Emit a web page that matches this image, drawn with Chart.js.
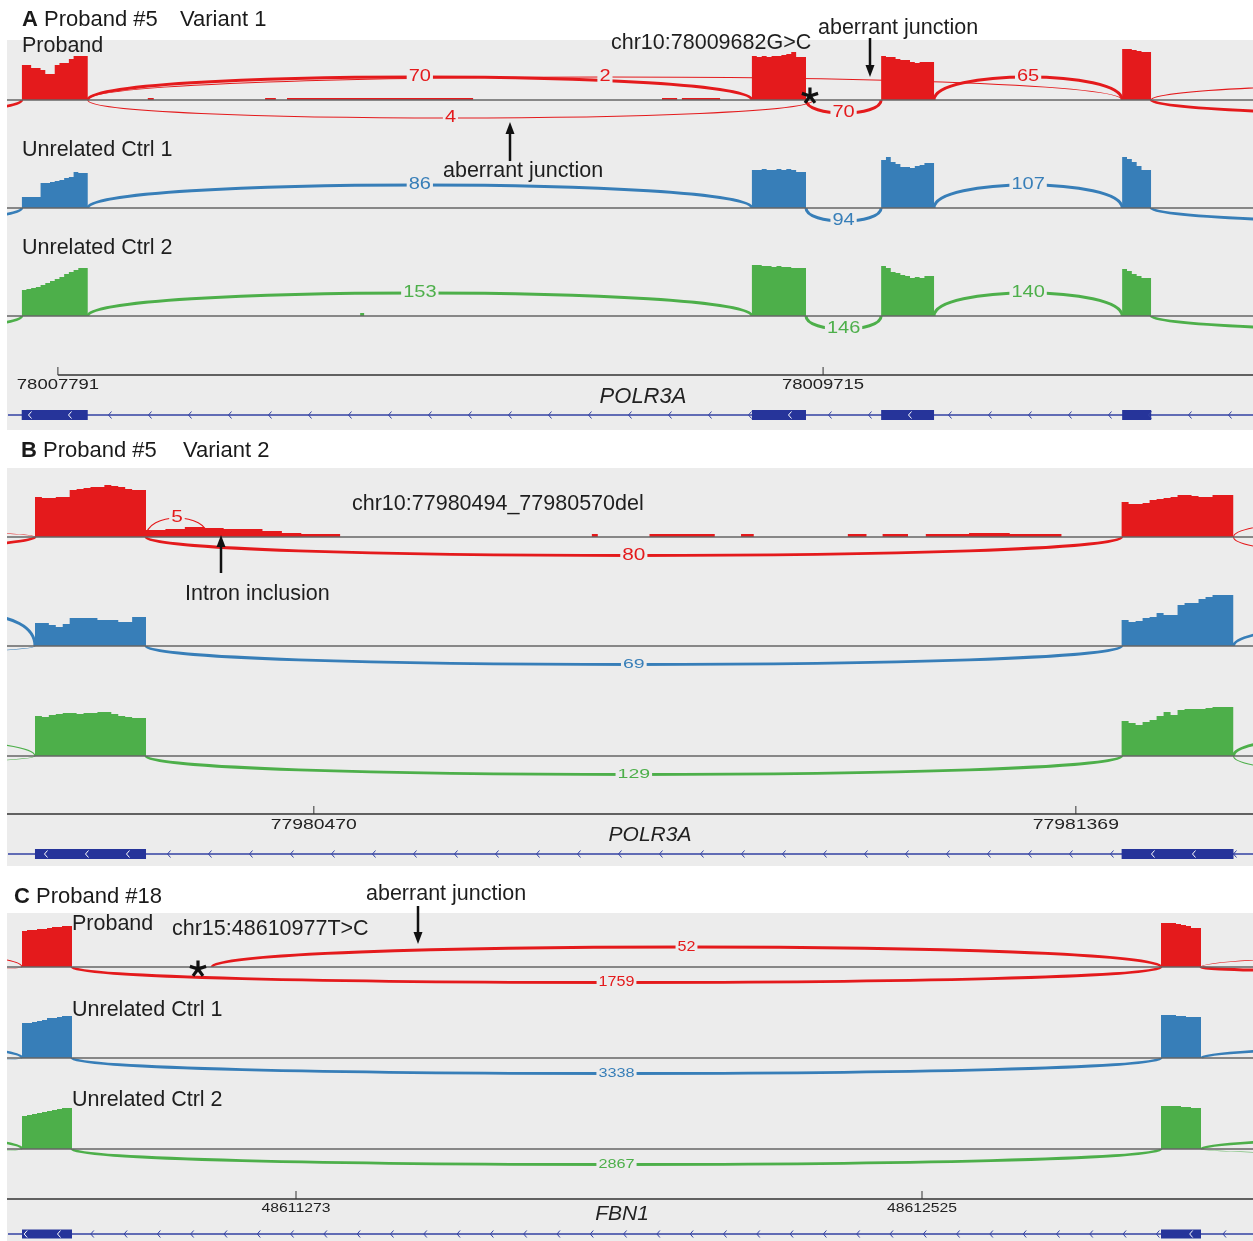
<!DOCTYPE html>
<html>
<head>
<meta charset="utf-8">
<title>Sashimi plots POLR3A / FBN1</title>
<script src="https://cdn.jsdelivr.net/npm/chart.js@4.4.1/dist/chart.umd.min.js"></script>
<style>
  body { margin: 0; background: #fff; }
  #page { position: relative; width: 1253px; height: 1241px; overflow: hidden;
          font-family: "Liberation Sans", Arial, sans-serif; color: #1a1a1a; }
  #page canvas { position: absolute; left: 0; }
  .ttl { position: absolute; font-size: 22px; line-height: 23px; white-space: pre; z-index: 2; }
</style>
</head>
<body>
<div id="page">
  <canvas id="panelA" width="1253" height="430" style="top:0px"></canvas>
  <canvas id="panelB" width="1253" height="436" style="top:430px"></canvas>
  <canvas id="panelC" width="1253" height="375" style="top:866px"></canvas>

  <span class="ttl" style="left:22px;top:7px"><b>A</b></span>
  <span class="ttl" style="left:44px;top:7px">Proband #5</span>
  <span class="ttl" style="left:180px;top:7px">Variant 1</span>

  <span class="ttl" style="left:21px;top:438px"><b>B</b></span>
  <span class="ttl" style="left:43px;top:438px">Proband #5</span>
  <span class="ttl" style="left:183px;top:438px">Variant 2</span>

  <span class="ttl" style="left:14px;top:884px"><b>C</b></span>
  <span class="ttl" style="left:36px;top:884px">Proband #18</span>
</div>
<script>
const RED = '#e41a1c', BLUE = '#377eb8', GREEN = '#4daf4a';
const trackColors = [RED, BLUE, GREEN];
const FONT = '"Liberation Sans", Arial, sans-serif';

// ---------- A: POLR3A chr10, proband #5 variant 1 ----------
const geneA = 'POLR3A';
const viewA = [78007663, 78010796];
const rulerA = [78007791, 78009715];
const exonsA = [[78007700, 78007866], [78009536, 78009672], [78009861, 78009994], [78010467, 78010540]];
// coverage segments: [start, end, depth samples left to right]
const covA_proband = [
  [78007700, 78007866, [35, 35, 35, 32, 32, 30, 26, 26, 35, 37, 37, 41, 44, 44]],
  [78008017, 78008032, [2]],
  [78008312, 78008339, [2]],
  [78008367, 78008835, [2]],
  [78009310, 78009348, [2]],
  [78009360, 78009456, [2]],
  [78009536, 78009672, [47, 44, 43, 44, 43, 44, 44, 45, 46, 48, 43]],
  [78009861, 78009994, [44, 44, 43, 43, 41, 40, 40, 38, 37, 38, 38]],
  [78010467, 78010540, [46, 51, 51, 50, 49, 48]]
];
const covA_ctrl1 = [
  [78007700, 78007866, [11, 11, 11, 11, 11, 25, 25, 26, 27, 28, 30, 31, 36, 35]],
  [78009536, 78009672, [36, 38, 38, 39, 38, 38, 39, 38, 39, 38, 36]],
  [78009861, 78009994, [41, 48, 51, 46, 44, 41, 41, 40, 42, 43, 45]],
  [78010467, 78010540, [44, 51, 49, 46, 42, 38]]
];
const covA_ctrl2 = [
  [78007700, 78007866, [26, 26, 27, 28, 29, 31, 33, 35, 37, 39, 42, 44, 46, 48]],
  [78008551, 78008561, [3]],
  [78009536, 78009672, [48, 51, 51, 50, 50, 49, 50, 49, 49, 48, 48]],
  [78009861, 78009994, [46, 50, 48, 44, 43, 41, 40, 38, 39, 38, 40]],
  [78010467, 78010540, [44, 47, 45, 42, 40, 38]]
];
// junctions: [donor, acceptor, reads, side]
const juncA_proband = [
  [78006277, 78007700, 60, 'down'],
  [78007866, 78009536, 70, 'up'],
  [78007866, 78010467, 2, 'up'],
  [78007866, 78009690, 4, 'down'],
  [78009672, 78009861, 70, 'down'],
  [78009994, 78010467, 65, 'up'],
  [78010540, 78014486, 3, 'up'],
  [78010540, 78013329, 60, 'down']
];
const juncA_ctrl1 = [
  [78006277, 78007700, 80, 'down'],
  [78007866, 78009536, 86, 'up'],
  [78009672, 78009861, 94, 'down'],
  [78009994, 78010467, 107, 'up'],
  [78010540, 78013329, 90, 'down']
];
const juncA_ctrl2 = [
  [78006277, 78007700, 140, 'down'],
  [78007866, 78009536, 153, 'up'],
  [78009672, 78009861, 146, 'down'],
  [78009994, 78010467, 140, 'up'],
  [78010540, 78013329, 150, 'down']
];
const variantA = 78009682;

// ---------- B: POLR3A chr10, proband #5 variant 2 ----------
const geneB = 'POLR3A';
const viewB = [77980108, 77981578];
const rulerB = [77980470, 77981369];
const exonsB = [[77980141, 77980272], [77981423, 77981555]];
const covB_proband = [
  [77980141, 77980272, [42, 40, 39, 39, 40, 40, 47, 48, 49, 50, 50, 52, 51, 50, 48, 47]],
  [77980272, 77980501, [6, 7, 8, 10, 9, 8, 8, 6, 4, 3]],
  [77980798, 77980805, [3]],
  [77980866, 77980943, [3]],
  [77980974, 77980989, [3]],
  [77981100, 77981122, [3]],
  [77981141, 77981171, [3]],
  [77981192, 77981243, [3]],
  [77981243, 77981291, [4]],
  [77981291, 77981352, [3]],
  [77981423, 77981555, [35, 35, 33, 33, 34, 37, 38, 39, 40, 42, 42, 41, 40, 40, 42, 42]]
];
const covB_ctrl1 = [
  [77980141, 77980272, [23, 23, 23, 21, 19, 22, 28, 28, 28, 28, 26, 26, 26, 24, 24, 29]],
  [77981423, 77981555, [28, 26, 24, 25, 28, 29, 33, 31, 31, 41, 43, 43, 47, 49, 51, 51]]
];
const covB_ctrl2 = [
  [77980141, 77980272, [41, 40, 39, 41, 42, 43, 43, 42, 43, 43, 44, 44, 42, 40, 39, 38]],
  [77981423, 77981555, [36, 35, 33, 31, 34, 36, 40, 44, 41, 46, 47, 47, 47, 48, 49, 49]]
];
const juncB_proband = [
  [77978659, 77980141, 70, 'down'],
  [77975000, 77980141, 3, 'up'],
  [77980272, 77980345, 5, 'up'],
  [77980272, 77981423, 80, 'down'],
  [77981555, 77981987, 3, 'up'],
  [77981555, 77981987, 3, 'down']
];
const juncB_ctrl1 = [
  [77980023, 77980141, 60, 'up'],
  [77976519, 77980141, 3, 'down'],
  [77980272, 77981423, 69, 'down'],
  [77981555, 77982358, 50, 'up']
];
const juncB_ctrl2 = [
  [77979704, 77980141, 3, 'up'],
  [77976519, 77980141, 3, 'down'],
  [77980272, 77981423, 129, 'down'],
  [77981555, 77981820, 50, 'up'],
  [77981555, 77981987, 3, 'down']
];

// ---------- C: FBN1 chr15, proband #18 ----------
const geneC = 'FBN1';
const viewC = [48610695, 48613187];
const rulerC = [48611273, 48612525];
const exonsC = [[48610725, 48610825], [48613003, 48613083]];
const covC_proband = [
  [48610725, 48610825, [35, 36, 37, 37, 38, 38, 39, 40, 40, 41]],
  [48613003, 48613083, [40, 44, 44, 44, 43, 42, 41, 39]]
];
const covC_ctrl1 = [
  [48610725, 48610825, [35, 35, 35, 36, 37, 38, 40, 40, 41, 42]],
  [48613003, 48613083, [40, 43, 43, 43, 42, 42, 41, 41]]
];
const covC_ctrl2 = [
  [48610725, 48610825, [33, 33, 34, 35, 36, 37, 38, 39, 40, 41]],
  [48613003, 48613083, [41, 43, 43, 43, 43, 42, 42, 41]]
];
const juncC_proband = [
  [48609525, 48610725, 3, 'up'],
  [48599525, 48610725, 3, 'down'],
  [48611105, 48613003, 52, 'up'],
  [48610825, 48613003, 1759, 'down'],
  [48613083, 48617243, 3, 'up'],
  [48613083, 48626083, 80, 'down']
];
const juncC_ctrl1 = [
  [48609165, 48610725, 60, 'up'],
  [48599525, 48610725, 3, 'down'],
  [48610825, 48613003, 3338, 'down'],
  [48613083, 48617243, 60, 'up']
];
const juncC_ctrl2 = [
  [48609165, 48610725, 60, 'up'],
  [48599525, 48610725, 3, 'down'],
  [48610825, 48613003, 2867, 'down'],
  [48613083, 48617243, 60, 'up'],
  [48613083, 48626083, 3, 'down']
];
const markC = 48611077;

// ---------- layout of the three panels (page pixels) ----------
const panels = [
  {
    canvas: 'panelA', top: 0, gray: [40, 430], view: viewA, ruler: rulerA, exons: exonsA, gene: geneA,
    cov: [covA_proband, covA_ctrl1, covA_ctrl2], junc: [juncA_proband, juncA_ctrl1, juncA_ctrl2],
    stars: [[0, variantA, 4]],
    base: [100, 208, 316], arcUp: [23, 23, 23], arcDown: 18, arcShortDown: 13,
    labFont: [16, 16, 16], labSx: [1.25, 1.25, 1.25],
    rulerY: 375, rulerFromTick: true, tickLabelY: 385, tickFont: 15, tickSx: 1.23,
    geneX: 643, geneY: 397, geneFont: 22, modelY: 415, exonH: 10, chevStart: 30, chevStep: 40,
    texts: [['Proband', 22, 46], ['Unrelated Ctrl 1', 22, 150], ['Unrelated Ctrl 2', 22, 248],
            ['chr10:78009682G>C', 611, 43], ['aberrant junction', 818, 28], ['aberrant junction', 443, 171]],
    arrows: [[870, 38, 77], [510, 161, 122]]
  },
  {
    canvas: 'panelB', top: 430, gray: [468, 866], view: viewB, ruler: rulerB, exons: exonsB, gene: geneB,
    cov: [covB_proband, covB_ctrl1, covB_ctrl2], junc: [juncB_proband, juncB_ctrl1, juncB_ctrl2],
    stars: [],
    base: [537, 646, 756], arcUp: [19, 30, 19], arcDown: 18.5,
    labFont: [16, 13, 13], labSx: [1.3, 1.5, 1.5],
    rulerY: 814, rulerFromTick: false, tickLabelY: 825, tickFont: 15, tickSx: 1.29,
    geneX: 650, geneY: 835, geneFont: 21, modelY: 854, exonH: 10, chevStart: 46, chevStep: 41,
    texts: [['chr10:77980494_77980570del', 352, 504], ['Intron inclusion', 185, 594]],
    arrows: [[221, 573, 535]]
  },
  {
    canvas: 'panelC', top: 866, gray: [913, 1241], view: viewC, ruler: rulerC, exons: exonsC, gene: geneC,
    cov: [covC_proband, covC_ctrl1, covC_ctrl2], junc: [juncC_proband, juncC_ctrl1, juncC_ctrl2],
    stars: [[0, markC, -2]],
    base: [967, 1058, 1149], arcUp: [20, 20, 20], arcDown: 15.5,
    labFont: [14, 13, 13], labSx: [1.15, 1.25, 1.25],
    rulerY: 1199, rulerFromTick: false, tickLabelY: 1208, tickFont: 13, tickSx: 1.21,
    geneX: 622, geneY: 1214, geneFont: 21, modelY: 1234, exonH: 9, chevStart: 25.7, chevStep: 33.3,
    texts: [['Proband', 72, 924], ['Unrelated Ctrl 1', 72, 1010], ['Unrelated Ctrl 2', 72, 1100],
            ['chr15:48610977T>C', 172, 929], ['aberrant junction', 366, 894]],
    arrows: [[418, 906, 944]]
  }
];

function text(ctx, str, x, y, size, o = {}) {
  ctx.save();
  ctx.font = (o.italic ? 'italic ' : '') + (o.bold ? 'bold ' : '') + size + 'px ' + FONT;
  ctx.fillStyle = o.color || '#1e1e1e';
  ctx.textBaseline = 'middle';
  ctx.textAlign = 'left';
  const sx = o.sx || 1;
  const w = ctx.measureText(str).width * sx;
  ctx.translate(o.align === 'center' ? x - w / 2 : x, y);
  ctx.scale(sx, 1);
  ctx.fillText(str, 0, 0);
  ctx.restore();
  return w;
}

// coverage segments -> stepped area dataset on a track axis
function coverageSet(segs, color, axis) {
  const pts = [];
  segs.forEach(([s, e, d]) => {
    const step = (e - s) / d.length;
    pts.push({ x: s, y: 0 });
    d.forEach((v, i) => pts.push({ x: s + i * step, y: v }));
    pts.push({ x: e, y: d[d.length - 1] });
    pts.push({ x: e, y: 0 });
  });
  return {
    data: pts, yAxisID: axis, stepped: 'after',
    borderColor: 'rgba(0,0,0,0)', borderWidth: 0, backgroundColor: color,
    fill: { value: 0 }, pointRadius: 0
  };
}

function drawJunctions(chart, P, list, i) {
  const ctx = chart.ctx, xs = chart.scales.x, ys = chart.scales['y' + i];
  const base = ys.getPixelForValue(0);
  const color = trackColors[i];
  const arcs = list.map(([from, to, reads, side]) => {
    const x1 = xs.getPixelForValue(from), x2 = xs.getPixelForValue(to);
    const dir = side === 'up' ? -1 : 1;
    let h = side === 'up' ? P.arcUp[i] : P.arcDown;
    if (side === 'down' && P.arcShortDown && x2 - x1 < 120) h = P.arcShortDown;
    return { x1, x2, reads, dir, h };
  });
  ctx.strokeStyle = color;
  arcs.forEach(a => {
    const cy = base + a.dir * a.h * 4 / 3;
    ctx.beginPath();
    ctx.moveTo(a.x1, base);
    ctx.bezierCurveTo(a.x1, cy, a.x2, cy, a.x2, base);
    ctx.lineWidth = a.reads >= 20 ? 3 : 1.2;
    ctx.stroke();
  });
  // read counts sit on the arc tops
  arcs.forEach(a => {
    const xm = (a.x1 + a.x2) / 2, ym = base + a.dir * a.h;
    const size = P.labFont[i], sx = P.labSx[i];
    ctx.font = size + 'px ' + FONT;
    const w = ctx.measureText(String(a.reads)).width * sx;
    ctx.fillStyle = '#ececec';
    ctx.fillRect(xm - w / 2 - 2, ym - size * 0.42, w + 4, size * 0.84);
    text(ctx, String(a.reads), xm, ym, size, { sx, align: 'center', color });
  });
}

function arrow(ctx, x, y0, y1) {
  const d = Math.sign(y1 - y0);
  ctx.strokeStyle = '#111'; ctx.fillStyle = '#111'; ctx.lineWidth = 2.5;
  ctx.beginPath(); ctx.moveTo(x, y0); ctx.lineTo(x, y1 - d * 9); ctx.stroke();
  ctx.beginPath();
  ctx.moveTo(x, y1); ctx.lineTo(x - 4.5, y1 - d * 12); ctx.lineTo(x + 4.5, y1 - d * 12);
  ctx.closePath(); ctx.fill();
}

function asterisk(ctx, x, y) {
  ctx.strokeStyle = '#111'; ctx.lineWidth = 3.2;
  for (let k = 0; k < 5; k++) {
    const a = (-90 + 72 * k) * Math.PI / 180;
    ctx.beginPath(); ctx.moveTo(x, y); ctx.lineTo(x + 8.5 * Math.cos(a), y + 8.5 * Math.sin(a)); ctx.stroke();
  }
}

function chevron(ctx, x, y, color) {
  ctx.strokeStyle = color; ctx.lineWidth = 1;
  ctx.beginPath(); ctx.moveTo(x + 1.5, y - 3.5); ctx.lineTo(x - 1.5, y); ctx.lineTo(x + 1.5, y + 3.5); ctx.stroke();
}

function sashimiPlugin(P) {
  return {
    id: 'sashimi',
    beforeDraw(chart) {
      const ctx = chart.ctx;
      ctx.save();
      ctx.fillStyle = '#ffffff';
      ctx.fillRect(0, 0, chart.width, chart.height);
      ctx.fillStyle = '#ececec';
      ctx.fillRect(7, P.gray[0] - P.top, chart.width - 7, P.gray[1] - P.gray[0]);
      ctx.restore();
    },
    beforeDatasetsDraw(chart) {
      const ctx = chart.ctx, area = chart.chartArea;
      ctx.save();
      ctx.beginPath();
      ctx.rect(area.left, P.gray[0] - P.top, area.right - area.left, P.gray[1] - P.gray[0]);
      ctx.clip();
      P.junc.forEach((list, i) => drawJunctions(chart, P, list, i));
      ctx.restore();
    },
    afterDatasetsDraw(chart) {
      const ctx = chart.ctx, area = chart.chartArea, xs = chart.scales.x;
      ctx.save();
      // track baselines
      P.base.forEach((b, i) => {
        const y = chart.scales['y' + i].getPixelForValue(0);
        ctx.strokeStyle = '#666'; ctx.lineWidth = 1.5;
        ctx.beginPath(); ctx.moveTo(area.left, y); ctx.lineTo(area.right, y); ctx.stroke();
      });
      // asterisks at the variant
      P.stars.forEach(([t, g, v]) => {
        asterisk(ctx, xs.getPixelForValue(g), chart.scales['y' + t].getPixelForValue(v));
      });
      ctx.translate(0, -P.top);
      // coordinate ruler
      const tx = P.ruler.map(v => xs.getPixelForValue(v));
      const x0 = P.rulerFromTick ? tx[0] : area.left;
      ctx.strokeStyle = '#333'; ctx.lineWidth = 1.5;
      ctx.beginPath(); ctx.moveTo(x0, P.rulerY); ctx.lineTo(area.right, P.rulerY); ctx.stroke();
      ctx.lineWidth = 1;
      tx.forEach((x, k) => {
        ctx.beginPath(); ctx.moveTo(x, P.rulerY); ctx.lineTo(x, P.rulerY - 8); ctx.stroke();
        text(ctx, String(P.ruler[k]), x, P.tickLabelY, P.tickFont, { sx: P.tickSx, align: 'center', color: '#222' });
      });
      text(ctx, P.gene, P.geneX, P.geneY, P.geneFont, { italic: true, align: 'center', color: '#222' });
      // gene model
      const my = P.modelY;
      ctx.strokeStyle = '#3342a3'; ctx.lineWidth = 1.5;
      ctx.beginPath(); ctx.moveTo(area.left + 1, my); ctx.lineTo(area.right, my); ctx.stroke();
      const ex = P.exons.map(([s, e]) => [xs.getPixelForValue(s), xs.getPixelForValue(e)]);
      ctx.fillStyle = '#26349a';
      ex.forEach(([a, b]) => ctx.fillRect(a, my - P.exonH / 2, b - a, P.exonH));
      for (let x = P.chevStart; x < area.right; x += P.chevStep) {
        const inside = ex.some(([a, b]) => x > a + 2 && x < b - 2);
        chevron(ctx, x, my, inside ? '#ffffff' : '#3342a3');
      }
      // annotations
      P.texts.forEach(([s, x, y]) => text(ctx, s, x, y, 21.5, { color: '#1e1e1e' }));
      P.arrows.forEach(([x, y0, y1]) => arrow(ctx, x, y0, y1));
      ctx.restore();
    }
  };
}

panels.forEach(P => {
  const cv = document.getElementById(P.canvas);
  const H = cv.height;
  const scales = {
    x: { type: 'linear', min: P.view[0], max: P.view[1], display: false },
    y: { display: false }
  };
  P.base.forEach((b, i) => {
    const lb = b - P.top;
    scales['y' + i] = { type: 'linear', min: lb - H, max: lb, display: false };
  });
  const datasets = P.cov.map((segs, i) => coverageSet(segs, trackColors[i], 'y' + i));
  new Chart(cv, {
    type: 'line',
    data: { datasets },
    options: {
      responsive: false,
      maintainAspectRatio: false,
      animation: false,
      devicePixelRatio: 1,
      events: [],
      layout: { padding: { left: 7, right: 0, top: 0, bottom: 0 } },
      plugins: { legend: { display: false }, tooltip: { enabled: false }, title: { display: false } },
      scales
    },
    plugins: [sashimiPlugin(P)]
  });
});
</script>
</body>
</html>
